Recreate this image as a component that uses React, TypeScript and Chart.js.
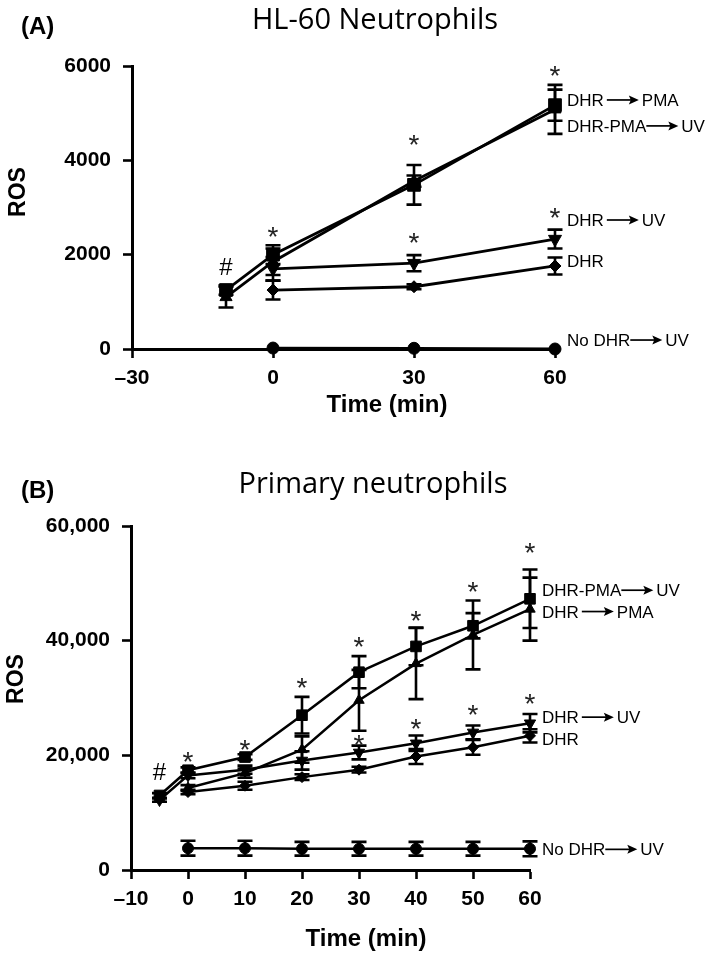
import React, { useEffect, useRef } from "react";
import { Chart, registerables } from "chart.js";

Chart.register(...registerables);

// ---------- Panel A: HL-60 Neutrophils ----------
const ticksXA = [-30, 0, 30, 60];
const tickLabelsXA = ["\u201330", "0", "30", "60"];
const ticksYA = [0, 2000, 4000, 6000];
const tickLabelsYA = ["0", "2000", "4000", "6000"];

const timesA = [-10, 0, 30, 60];
const timesA0 = [0, 30, 60];
const pmaUvA = [1250, 2000, 3480, 5170];
const pmaUvErrA = [100, 200, 420, 330];
const pmaA = [1100, 1850, 3560, 5080];
const pmaErrA = [220, 280, 120, 520];
const uvA = [1700, 1820, 2330];
const uvErrA = [250, 170, 200];
const dhrA = [1250, 1320, 1760];
const dhrErrA = [200, 50, 180];
const noDhrA = [20, 15, 0];
const noDhrErrA = [0, 0, 0];

const starsA = [[0, 2490], [30, 4430], [30, 2350], [60, 5900], [60, 2880]];
const hashA = [[-10, 1740]];
const labelsA = [
  { pre: "DHR", post: "PMA", y: 5280, gap: 3 },
  { pre: "DHR-PMA", post: "UV", y: 4730, gap: 0 },
  { pre: "DHR", post: "UV", y: 2735, gap: 3 },
  { pre: "DHR", post: "", y: 1866, gap: 0 },
  { pre: "No DHR", post: "UV", y: 190, gap: 0 },
];

// ---------- Panel B: Primary neutrophils ----------
const ticksXB = [-10, 0, 10, 20, 30, 40, 50, 60];
const tickLabelsXB = ["\u201310", "0", "10", "20", "30", "40", "50", "60"];
const ticksYB = [0, 20000, 40000, 60000];
const tickLabelsYB = ["0", "20,000", "40,000", "60,000"];

const timesB = [-5, 0, 10, 20, 30, 40, 50, 60];
const timesB0 = [0, 10, 20, 30, 40, 50, 60];
const pmaUvB = [13000, 17400, 19700, 27000, 34500, 39000, 42600, 47300];
const pmaUvErrB = [400, 500, 500, 3200, 2800, 3300, 2200, 5100];
const uvB = [12200, 16500, 17500, 19100, 20500, 22100, 24000, 25600];
const uvErrB = [300, 500, 700, 1600, 1200, 1350, 1200, 1600];
const pmaB = [14300, 16900, 21000, 29600, 36000, 41000, 45500];
const pmaErrB = [500, 800, 2300, 5300, 6200, 6000, 5500];
const dhrB = [13600, 14700, 16200, 17500, 19800, 21400, 23400];
const dhrErrB = [400, 700, 500, 500, 1300, 1300, 1150];
const noDhrB = [3800, 3800, 3700, 3700, 3700, 3700, 3700];
const noDhrErrB = [1300, 1300, 1200, 1200, 1200, 1200, 1300];

const starsB = [
  [0, 19700], [10, 21850], [20, 32580], [30, 39700], [30, 22600],
  [40, 44350], [40, 25500], [50, 49390], [50, 27820], [60, 56200], [60, 29860],
];
const hashB = [[-5, 17200]];
const labelsB = [
  { pre: "DHR-PMA", post: "UV", y: 48800, gap: 0 },
  { pre: "DHR", post: "PMA", y: 45080, gap: 3 },
  { pre: "DHR", post: "UV", y: 26660, gap: 3 },
  { pre: "DHR", post: "", y: 22900, gap: 0 },
  { pre: "No DHR", post: "UV", y: 3600, gap: 0 },
];

const BOLD = "'Liberation Sans', Arial, Helvetica, sans-serif";
const REG = "'Liberation Sans', Arial, Helvetica, sans-serif";
const TITLE = "'Open Sans', 'Noto Sans', sans-serif";

function drawCentered(ctx: CanvasRenderingContext2D, text: string, cx: number, cy: number) {
  const m = ctx.measureText(text);
  const asc = m.actualBoundingBoxAscent;
  const desc = m.actualBoundingBoxDescent;
  ctx.textAlign = "center";
  ctx.textBaseline = "alphabetic";
  ctx.fillText(text, cx, cy + (asc - desc) / 2);
}

function drawArrow(ctx: CanvasRenderingContext2D, x0: number, y: number, len: number) {
  ctx.save();
  ctx.strokeStyle = "#000";
  ctx.fillStyle = "#000";
  ctx.lineWidth = 1.7;
  ctx.beginPath();
  ctx.moveTo(x0, y);
  ctx.lineTo(x0 + len - 7, y);
  ctx.stroke();
  ctx.beginPath();
  ctx.moveTo(x0 + len, y);
  ctx.lineTo(x0 + len - 10, y - 4.5);
  ctx.lineTo(x0 + len - 8, y);
  ctx.lineTo(x0 + len - 10, y + 4.5);
  ctx.closePath();
  ctx.fill();
  ctx.restore();
}

type Panel = {
  letter: string;
  title: string;
  letterPos: [number, number];
  titlePos: [number, number];
  rosPos: [number, number];
  timePos: [number, number];
  stars: number[][];
  hashes: number[][];
  labels: { pre: string; post: string; y: number; gap: number }[];
  errs: (number[] | null)[];
};

function overlayPlugin(p: Panel) {
  return {
    id: "overlay",
    afterDatasetsDraw(chart: any) {
      const ctx: CanvasRenderingContext2D = chart.ctx;
      const xs = chart.scales.x;
      const ys = chart.scales.y;
      ctx.save();
      ctx.strokeStyle = "#000";
      ctx.lineWidth = 2.6;
      chart.data.datasets.forEach((ds: any, di: number) => {
        const errs = p.errs[di];
        if (!errs) return;
        ds.data.forEach((pt: any, i: number) => {
          const e = errs[i];
          if (!e) return;
          const px = xs.getPixelForValue(pt.x);
          const yt = ys.getPixelForValue(pt.y + e);
          const yb = ys.getPixelForValue(pt.y - e);
          ctx.beginPath();
          ctx.moveTo(px, yt);
          ctx.lineTo(px, yb);
          ctx.moveTo(px - 7.5, yt);
          ctx.lineTo(px + 7.5, yt);
          ctx.moveTo(px - 7.5, yb);
          ctx.lineTo(px + 7.5, yb);
          ctx.stroke();
        });
      });
      ctx.restore();
    },
    afterDraw(chart: any) {
      const ctx: CanvasRenderingContext2D = chart.ctx;
      const xs = chart.scales.x;
      const ys = chart.scales.y;
      ctx.save();
      ctx.fillStyle = "#000";

      // panel letter
      ctx.font = `bold 24px ${BOLD}`;
      ctx.textAlign = "left";
      ctx.textBaseline = "alphabetic";
      ctx.fillText(p.letter, p.letterPos[0], p.letterPos[1]);

      // title
      ctx.font = `29px ${TITLE}`;
      ctx.textAlign = "center";
      ctx.fillText(p.title, p.titlePos[0], p.titlePos[1]);

      // axis titles
      ctx.font = `bold 24px ${BOLD}`;
      ctx.textAlign = "center";
      ctx.fillText("Time (min)", p.timePos[0], p.timePos[1]);

      ctx.save();
      ctx.translate(p.rosPos[0], p.rosPos[1]);
      ctx.rotate(-Math.PI / 2);
      ctx.font = `bold 23px ${BOLD}`;
      ctx.textAlign = "center";
      ctx.fillText("ROS", 0, 0);
      ctx.restore();

      // asterisks
      ctx.fillStyle = "#222";
      ctx.font = `28px ${REG}`;
      p.stars.forEach(([x, y]) => drawCentered(ctx, "*", xs.getPixelForValue(x), ys.getPixelForValue(y)));
      ctx.fillStyle = "#000";
      ctx.font = `24px ${REG}`;
      p.hashes.forEach(([x, y]) => drawCentered(ctx, "#", xs.getPixelForValue(x), ys.getPixelForValue(y)));

      // right-hand labels
      ctx.font = `17px ${REG}`;
      const capAsc = ctx.measureText("DHR").actualBoundingBoxAscent;
      const x0 = xs.getPixelForValue(60) + 12;
      p.labels.forEach((l) => {
        const cy = ys.getPixelForValue(l.y);
        const base = cy + capAsc / 2;
        ctx.textAlign = "left";
        ctx.textBaseline = "alphabetic";
        ctx.fillText(l.pre, x0, base);
        if (l.post) {
          const w = ctx.measureText(l.pre).width;
          const ax = x0 + w + l.gap;
          const alen = 32;
          drawArrow(ctx, ax, cy, alen);
          ctx.fillText(l.post, ax + alen + 3, base);
        }
      });
      ctx.restore();
    },
  };
}

function makeDataset(xs: number[], ys: number[], style: string, r: number, rot = 0, bw = 2.7) {
  return {
    data: xs.map((x, i) => ({ x, y: ys[i] })),
    borderColor: "#000",
    borderWidth: bw,
    pointStyle: style,
    pointRotation: rot,
    pointRadius: r,
    pointBackgroundColor: "#000",
    pointBorderColor: "#000",
    pointBorderWidth: 1,
    fill: false,
    tension: 0,
    clip: false,
  };
}

function makeConfig(
  datasets: any[],
  xMin: number,
  xMax: number,
  ticksX: number[],
  labelsX: string[],
  yMax: number,
  ticksY: number[],
  labelsY: string[],
  pad: { top: number; right: number },
  yW: number,
  xH: number,
  panel: Panel
) {
  const tickFont = { family: BOLD, size: 21, weight: "bold" as const };
  return {
    type: "line" as const,
    data: { datasets },
    options: {
      animation: false as const,
      responsive: false,
      maintainAspectRatio: false,
      devicePixelRatio: 1,
      layout: { padding: { left: 0, right: pad.right, top: pad.top, bottom: 0 } },
      plugins: {
        legend: { display: false },
        tooltip: { enabled: false },
        title: { display: false },
      },
      scales: {
        x: {
          type: "linear" as const,
          min: xMin,
          max: xMax,
          afterBuildTicks: (s: any) => {
            s.ticks = ticksX.map((v) => ({ value: v }));
          },
          afterFit: (s: any) => {
            s.height = xH;
          },
          ticks: {
            callback: (_v: any, i: number) => labelsX[i],
            font: tickFont,
            color: "#000",
            padding: 8,
            maxRotation: 0,
            autoSkip: false,
          },
          grid: {
            display: true,
            drawOnChartArea: false,
            drawTicks: true,
            tickLength: 9,
            tickWidth: 2.6,
            tickColor: "#000",
            color: "#000",
          },
          border: { display: true, color: "#000", width: 3 },
        },
        y: {
          type: "linear" as const,
          min: 0,
          max: yMax,
          afterBuildTicks: (s: any) => {
            s.ticks = ticksY.map((v) => ({ value: v }));
          },
          afterFit: (s: any) => {
            s.width = yW;
          },
          ticks: {
            callback: (_v: any, i: number) => labelsY[i],
            font: tickFont,
            color: "#000",
            padding: 12,
            autoSkip: false,
          },
          grid: {
            display: true,
            drawOnChartArea: false,
            drawTicks: true,
            tickLength: 9,
            tickWidth: 2.6,
            tickColor: "#000",
            color: "#000",
          },
          border: { display: true, color: "#000", width: 3 },
        },
      },
    },
    plugins: [overlayPlugin(panel)],
  };
}

export default function App() {
  const refA = useRef<HTMLCanvasElement>(null);
  const refB = useRef<HTMLCanvasElement>(null);

  useEffect(() => {
    const panelA: Panel = {
      letter: "(A)",
      title: "HL-60 Neutrophils",
      letterPos: [21, 34],
      titlePos: [375, 29],
      rosPos: [25, 192],
      timePos: [387, 412],
      stars: starsA,
      hashes: hashA,
      labels: labelsA,
      errs: [pmaUvErrA, pmaErrA, uvErrA, dhrErrA, noDhrErrA],
    };
    const dsA = [
      makeDataset(timesA, pmaUvA, "rect", 9, 0, 2.8),
      makeDataset(timesA, pmaA, "triangle", 7, 0, 2.8),
      makeDataset(timesA0, uvA, "triangle", 7.5, 180, 2.8),
      makeDataset(timesA0, dhrA, "rectRot", 6, 0, 2.8),
      makeDataset(timesA0, noDhrA, "circle", 6, 0, 2.8),
    ];
    const chartA = new Chart(
      refA.current as HTMLCanvasElement,
      makeConfig(dsA, -30, 60, ticksXA, tickLabelsXA, 6000, ticksYA, tickLabelsYA,
        { top: 66, right: 154 }, 132, 101, panelA) as any
    );

    const panelB: Panel = {
      letter: "(B)",
      title: "Primary neutrophils",
      letterPos: [21, 48],
      titlePos: [373, 43],
      rosPos: [23, 229],
      timePos: [366, 496],
      stars: starsB,
      hashes: hashB,
      labels: labelsB,
      errs: [pmaUvErrB, uvErrB, pmaErrB, dhrErrB, noDhrErrB],
    };
    const dsB = [
      makeDataset(timesB, pmaUvB, "rect", 7.5, 0, 2.5),
      makeDataset(timesB, uvB, "triangle", 6.5, 180, 2.5),
      makeDataset(timesB0, pmaB, "triangle", 6, 0, 2.5),
      makeDataset(timesB0, dhrB, "rectRot", 5.5, 0, 2.5),
      makeDataset(timesB0, noDhrB, "circle", 5.5, 0, 2.5),
    ];
    const chartB = new Chart(
      refB.current as HTMLCanvasElement,
      makeConfig(dsB, -10, 60, ticksXB, tickLabelsXB, 60000, ticksYB, tickLabelsYB,
        { top: 76, right: 179 }, 131, 85, panelB) as any
    );

    return () => {
      chartA.destroy();
      chartB.destroy();
    };
  }, []);

  return (
    <div style={{ position: "absolute", left: 0, top: 0, width: 709, height: 955, background: "#fff" }}>
      <canvas ref={refA} width={709} height={450} style={{ position: "absolute", left: 0, top: 0, width: 709, height: 450 }} />
      <canvas ref={refB} width={709} height={505} style={{ position: "absolute", left: 0, top: 450, width: 709, height: 505 }} />
    </div>
  );
}
